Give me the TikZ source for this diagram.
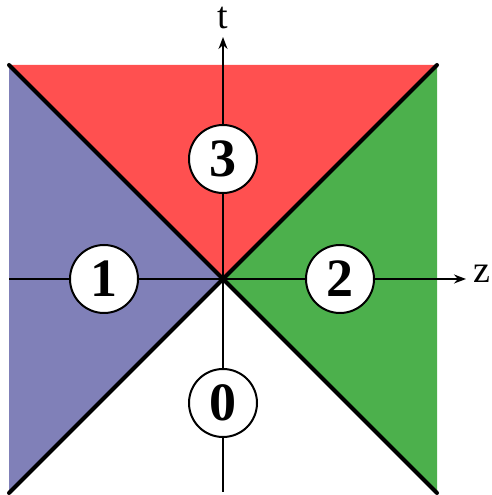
\documentclass[tikz,border=0pt]{standalone}
\usepackage{fontspec}
\setmainfont{Liberation Serif}
\usetikzlibrary{arrows.meta}
\definecolor{regred}{RGB}{255,80,80}
\definecolor{regblue}{RGB}{128,128,184}
\definecolor{reggreen}{RGB}{76,176,76}
\begin{document}
\begin{tikzpicture}[x=1pt,y=1pt,
  axis/.style={line width=1.8pt,-{Stealth[length=12pt,width=9pt]}},
  diag/.style={line width=4pt,line cap=round},
  region/.style={circle,draw=black,line width=2pt,fill=white,minimum size=68pt,inner sep=0pt,font=\fontsize{54}{54}\selectfont\bfseries},
  axlabel/.style={inner sep=0pt,font=\fontsize{38}{38}\selectfont}]
\useasboundingbox (0,0) rectangle (491,495);
\coordinate (O) at (223,216);
\coordinate (TL) at (9,430);
\coordinate (TR) at (437,430);
\coordinate (BL) at (9,2);
\coordinate (BR) at (437,2);
\fill[regred] (O) -- (TL) -- (TR) -- cycle;
\fill[regblue] (O) -- (TL) -- (BL) -- cycle;
\fill[reggreen] (O) -- (TR) -- (BR) -- cycle;
\coordinate (tbot) at (223,3);
\coordinate (ttop) at (223,458);
\coordinate (zleft) at (9,216);
\coordinate (zright) at (466,216);
\draw[axis] (tbot) -- (ttop);
\draw[axis] (zleft) -- (zright);
\draw[diag] (TL) -- (BR);
\draw[diag] (TR) -- (BL);
\node[axlabel] (tl) at (223,477) {t};
\node[axlabel] (zl) at (482,221) {z};
\node[region] (r3) at (223,336) {3};
\node[region] (r1) at (104,216) {1};
\node[region] (r2) at (340,216) {2};
\node[region] (r0) at (223,92) {0};
\end{tikzpicture}
\end{document}
